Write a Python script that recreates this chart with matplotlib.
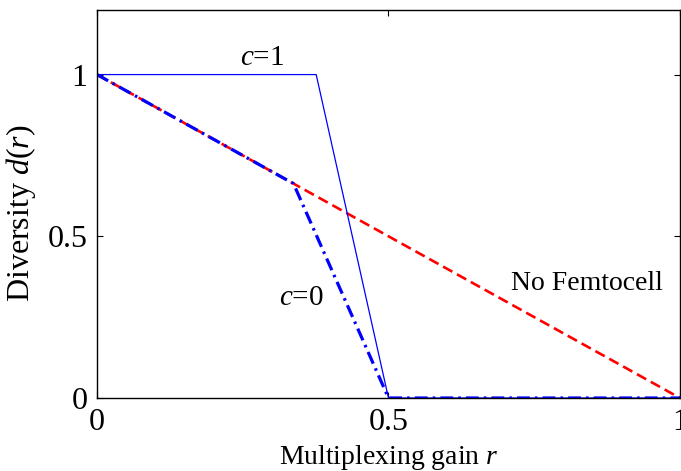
import matplotlib
matplotlib.use("Agg")
import matplotlib.pyplot as plt

plt.rcParams["font.family"] = ["Liberation Serif", "DejaVu Serif"]
plt.rcParams["mathtext.fontset"] = "custom"
plt.rcParams["mathtext.rm"] = "Liberation Serif"
plt.rcParams["mathtext.it"] = "Liberation Serif:italic"

# data
r_no_femto = [0.0, 1.0]
d_no_femto = [1.0, 0.0]

r_c1 = [0.0, 0.376, 0.5, 1.0]
d_c1 = [1.0, 1.0, 0.0, 0.0]

r_c0 = [0.0, 0.337, 0.5, 1.0]
d_c0 = [1.0, 0.663, 0.0, 0.0]

xticks = [0, 0.5, 1]
yticks = [0, 0.5, 1]
xtick_labels = ["0", "0.5", "1"]
ytick_labels = ["0", "0.5", "1"]

fig = plt.figure(figsize=(6.81, 4.71), dpi=100)
ax = fig.add_axes([0.1424, 0.155, 0.8561, 0.824])

ax.plot(r_no_femto, d_no_femto, color="red", linestyle=(0, (4, 2)), linewidth=1.9)
ax.plot(r_c0, d_c0, color="blue", linestyle=(0, (4, 1.6, 0.8, 1.6)), linewidth=2.3)
ax.plot(r_c1, d_c1, color="blue", linestyle="-", linewidth=0.9)

ax.set_xlim(0, 1)
ax.set_ylim(0, 1.2)
ax.set_xticks(xticks)
ax.set_xticklabels(xtick_labels)
ax.set_yticks(yticks)
ax.set_yticklabels(ytick_labels)
ax.tick_params(direction="in", top=True, right=True, length=4, labelsize=23, pad=7)

ax.set_xlabel("Multiplexing gain $r$", fontsize=20)
ax.set_ylabel("Diversity $d(r)$", fontsize=23)
ax.xaxis.set_label_coords(0.5, -0.115)
ax.yaxis.set_label_coords(-0.102, 0.475)

ax.text(0.283, 1.05, "$c$=1", fontsize=21, ha="center", va="center")
ax.text(0.350, 0.31, "$c$=0", fontsize=21, ha="center", va="center")
ax.text(0.840, 0.355, "No Femtocell", fontsize=20, ha="center", va="center")

for s in ax.spines.values():
    s.set_linewidth(1.0)

fig.savefig("out.png", dpi=100)
